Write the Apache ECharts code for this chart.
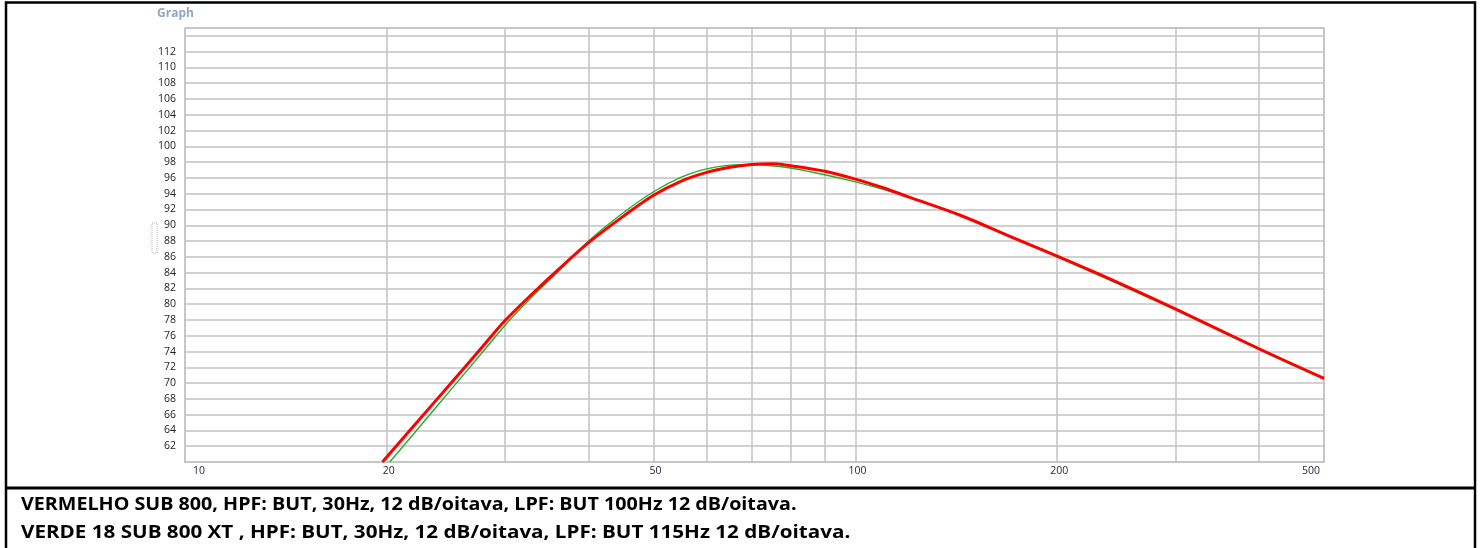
<!DOCTYPE html>
<html>
<head>
<meta charset="utf-8">
<script src="https://cdn.jsdelivr.net/npm/echarts@6/dist/echarts.min.js"></script>
<style>
  html, body { margin: 0; padding: 0; background: #fff; }
  #chart { width: 1482px; height: 548px; }
</style>
</head>
<body>
<div id="chart"></div>
<script>
// frequencias (Hz) e niveis (dB)
const redFreq = [19.7, 22, 25, 28, 30, 33, 36, 40, 45, 50, 55, 60, 65, 70, 75, 80, 90, 100, 110, 120, 143, 169, 200, 231, 300, 400, 500];
const redDb = [60, 64.7, 70.1, 74.95, 77.9, 81.35, 84.35, 87.8, 91.1, 93.8, 95.6, 96.7, 97.35, 97.7, 97.8, 97.55, 96.85, 95.85, 94.75, 93.6, 91.3, 88.7, 86.1, 83.8, 79.4, 74.35, 70.6];

const greenFreq = [20.2, 22, 25, 28, 30.5, 33, 36, 40, 45, 50, 55, 60, 65, 70, 75, 80, 90, 100, 110, 120, 143, 169, 200, 300, 400, 500];
const greenDb = [60, 63.7, 69.3, 74.25, 78, 81.0, 84.1, 88.0, 91.55, 94.25, 96.1, 97.15, 97.62, 97.7, 97.55, 97.25, 96.4, 95.5, 94.55, 93.55, 91.3, 88.6, 86.0, 79.3, 74.25, 70.5];

// linhas verticais da grade e rotulos do eixo x
const xGridFreqs = [10, 20, 30, 40, 50, 60, 70, 80, 90, 100, 200, 300, 400, 500];
const xLabelFreqs = [10, 20, 50, 100, 200, 500];

const legendLines = [
  'VERMELHO SUB 800, HPF: BUT, 30Hz, 12 dB/oitava, LPF: BUT 100Hz 12 dB/oitava.',
  'VERDE 18 SUB 800 XT , HPF: BUT, 30Hz, 12 dB/oitava, LPF: BUT 115Hz 12 dB/oitava.'
];

const toPoints = (freqs, vals) => freqs.map((f, i) => [Math.log10(f), vals[i]]);

const gridColor = '#c2c2c2';
const legendFont = 'bold 18.5px "Open Sans"';
const chart = echarts.init(document.getElementById('chart'));

const option = {
  animation: false,
  title: {
    text: 'Graph',
    left: 157,
    top: 8,
    padding: 0,
    textStyle: {
      fontFamily: 'Open Sans',
      fontSize: 12,
      fontWeight: 'bold',
      color: '#8fa6c4'
    }
  },
  grid: {
    left: 185,
    top: 28,
    width: 1139,
    height: 434,
    show: true,
    borderColor: gridColor,
    borderWidth: 1.5
  },
  xAxis: {
    type: 'value',
    min: 1,
    max: Math.log10(500),
    axisLine: { show: false },
    axisTick: {
      show: false,
      customValues: xGridFreqs.map(f => Math.log10(f))
    },
    splitLine: {
      show: true,
      lineStyle: { color: gridColor, width: 1.5 }
    },
    axisLabel: {
      customValues: xLabelFreqs.map(f => Math.log10(f)),
      formatter: v => String(Math.round(Math.pow(10, v))),
      margin: 4,
      fontFamily: 'Open Sans',
      fontSize: 10.5,
      color: '#2b2540',
      alignMinLabel: 'left',
      alignMaxLabel: 'right',
      padding: [0, 4, 0, 8]
    }
  },
  yAxis: {
    type: 'value',
    min: 60,
    max: 115,
    interval: 2,
    axisLine: { show: false },
    axisTick: { show: false },
    splitLine: {
      show: true,
      lineStyle: { color: gridColor, width: 1.5 }
    },
    axisLabel: {
      formatter: v => (v >= 62 && v <= 112 ? String(v) : ''),
      margin: 9,
      fontFamily: 'Open Sans',
      fontSize: 10.5,
      color: '#222'
    }
  },
  series: [
    {
      name: 'VERDE',
      type: 'line',
      data: toPoints(greenFreq, greenDb),
      smooth: 0.35,
      symbol: 'none',
      lineStyle: { color: '#2aaa2a', width: 1.4 }
    },
    {
      name: 'VERMELHO',
      type: 'line',
      data: toPoints(redFreq, redDb),
      smooth: 0.35,
      symbol: 'none',
      lineStyle: { color: '#ff0000', width: 3 }
    }
  ],
  graphic: [
    {
      type: 'rect',
      shape: { x: 6, y: 2.5, width: 1469, height: 570 },
      style: { fill: 'none', stroke: '#000', lineWidth: 2.5 }
    },
    {
      type: 'line',
      shape: { x1: 6, y1: 488, x2: 1475, y2: 488 },
      style: { stroke: '#000', lineWidth: 3 }
    },
    {
      type: 'rect',
      shape: { x: 152, y: 223, width: 5, height: 30 },
      style: { fill: 'none', stroke: '#b0b0b0', lineWidth: 1, lineDash: [1, 1] }
    },
    {
      type: 'text',
      x: 21,
      y: 505,
      scaleX: 1.065,
      style: {
        text: legendLines[0],
        font: legendFont,
        fill: '#000',
        verticalAlign: 'middle'
      }
    },
    {
      type: 'text',
      x: 21,
      y: 533,
      scaleX: 1.115,
      style: {
        text: legendLines[1],
        font: legendFont,
        fill: '#000',
        verticalAlign: 'middle'
      }
    }
  ]
};

chart.setOption(option);
</script>
</body>
</html>
